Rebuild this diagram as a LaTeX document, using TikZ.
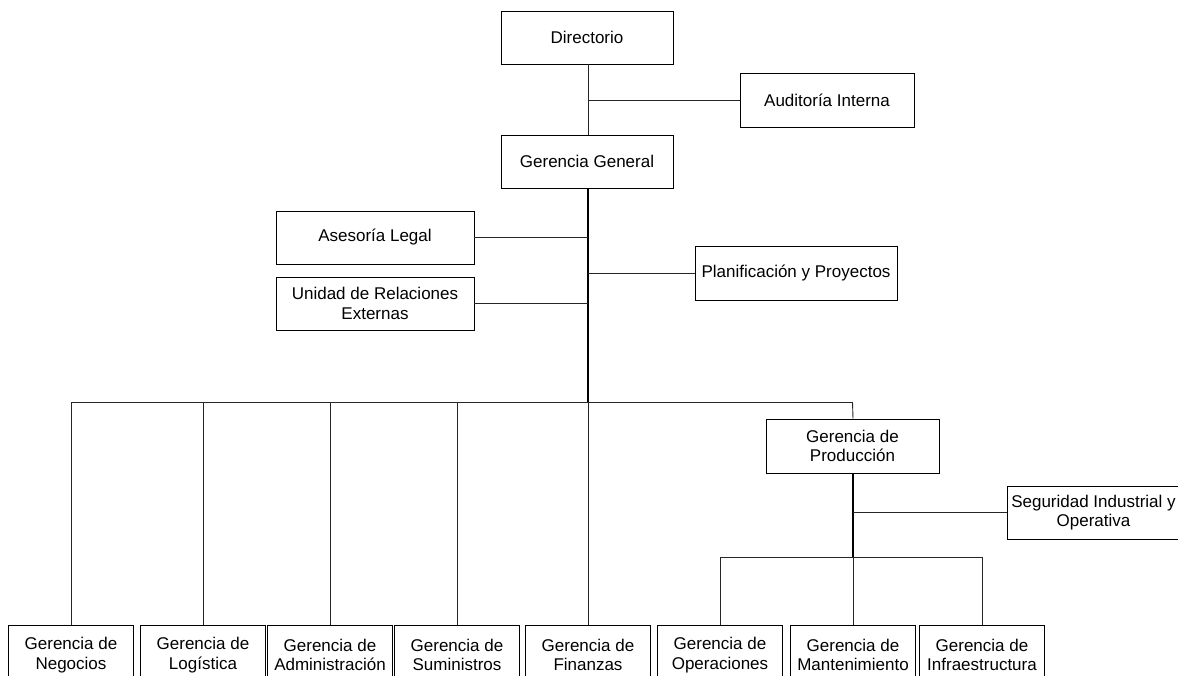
\documentclass[tikz,border=0pt]{standalone}
\usepackage{fontspec}
\setmainfont{Liberation Sans}
\begin{document}
\begin{tikzpicture}[x=1pt,y=-1pt,
  box/.style={draw=black, line width=0.9pt, inner sep=0pt, align=center,
    font=\fontsize{17}{19.5}\selectfont},
  topbox/.style={box, minimum height=53pt},
  lowbox/.style={box, minimum width=125pt, minimum height=59pt, anchor=north},
  thin/.style={draw=black!85, line width=0.9pt},
  trunk/.style={draw=black, line width=2pt}]
\useasboundingbox (0,0) rectangle (1178,675);
% upper boxes
\node[topbox, minimum width=172pt] (dir) at (587,37.5) {Directorio};
\node[topbox, minimum width=174pt, minimum height=54pt] (aud) at (827,100) {Auditoría Interna};
\node[topbox, minimum width=172pt] (gg) at (587,161.5) {Gerencia General};
\node[topbox, minimum width=198pt] (ase) at (375,237.5) {Asesoría Legal};
\node[topbox, minimum width=198pt] (ure) at (375,303.5) {Unidad de Relaciones\\Externas};
\node[topbox, minimum width=202pt, minimum height=54pt] (pla) at (796,273) {Planificación y Proyectos};
\node[topbox, minimum width=173pt, minimum height=54pt] (prod) at (852.5,446) {Gerencia de\\Producción};
\node[topbox, minimum width=173pt] (seg) at (1093.5,512.5) {Seguridad Industrial y\\Operativa};
% lower boxes
\node[lowbox] (neg) at (71,625) {Gerencia de\\Negocios};
\node[lowbox] (log) at (203,625) {Gerencia de\\Logística};
\node[lowbox] (adm) at (330,625) {Gerencia de\\Administración};
\node[lowbox] (sum) at (457,625) {Gerencia de\\Suministros};
\node[lowbox] (fin) at (588,625) {Gerencia de\\Finanzas};
\node[lowbox] (ope) at (720,625) {Gerencia de\\Operaciones};
\node[lowbox] (man) at (853,625) {Gerencia de\\Mantenimiento};
\node[lowbox] (inf) at (982,625) {Gerencia de\\Infraestructura};
% junction coordinates
\coordinate (bus) at (588,402);
\coordinate (pbus) at (853,557);
% top connectors
\draw[thin] (dir.south -| bus) -- (gg.north -| bus);
\draw[thin] (aud.west) -- (aud.west -| bus);
\draw[trunk] (gg.south -| bus) -- (bus);
\draw[thin] (ase.east) -- (ase.east -| bus);
\draw[thin] (ure.east) -- (ure.east -| bus);
\draw[thin] (pla.west) -- (pla.west -| bus);
% main bus
\draw[thin] (neg.north |- bus) -- (prod.north |- bus);
\foreach \n in {neg,log,adm,sum,fin}{
  \draw[thin] (\n.north) -- (\n.north |- bus);
}
\draw[thin] (prod.north |- bus) -- (prod.north -| pbus);
% production branch
\draw[trunk] (prod.south -| pbus) -- (pbus);
\draw[thin] (seg.west) -- (seg.west -| pbus);
\draw[thin] (ope.north |- pbus) -- (inf.north |- pbus);
\foreach \n in {ope,man,inf}{
  \draw[thin] (\n.north) -- (\n.north |- pbus);
}
\end{tikzpicture}
\end{document}
